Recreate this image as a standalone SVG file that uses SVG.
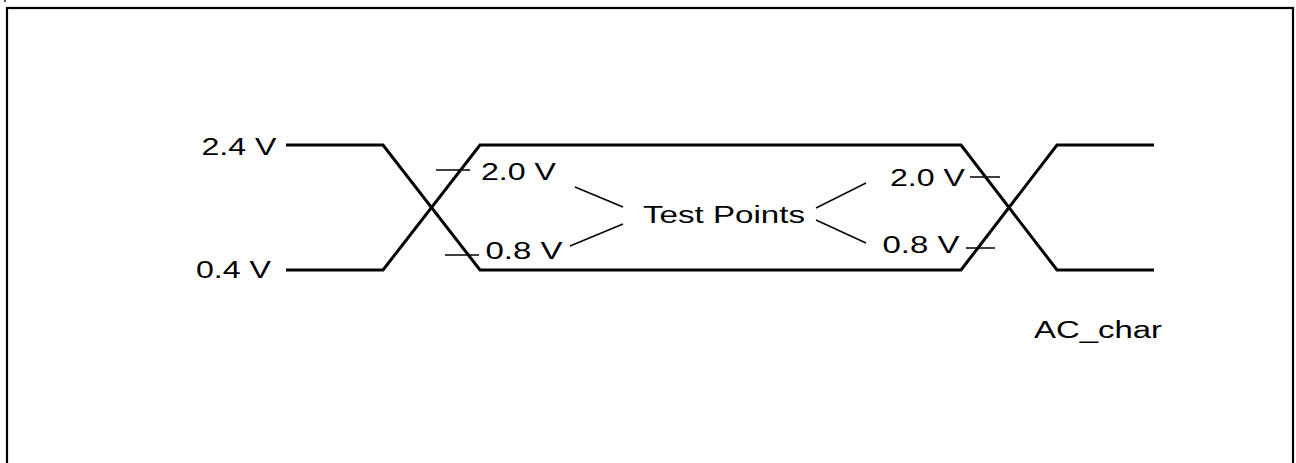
<svg xmlns="http://www.w3.org/2000/svg" width="1296" height="463" viewBox="0 0 1296 463">
<style>
.frame{fill:none;stroke:#000;stroke-width:2.2}
.wave{fill:none;stroke:#000;stroke-width:3;stroke-linejoin:miter}
.thin{fill:none;stroke:#000;stroke-width:1.5}
text{font-family:"Liberation Sans",Arial,sans-serif;font-size:23px;fill:#000}
</style>
<rect width="1296" height="463" fill="#fff"/>
<rect x="4" y="0" width="2" height="2" fill="#555"/>
<rect class="frame" x="7" y="8" width="1286" height="470"/>
<g id="connectors">
<polyline class="wave" points="286,145 383,145 480,270 961,270 1057,145 1154,145"/>
<polyline class="wave" points="286,270 383,270 480,145 961,145 1057,270 1154,270"/>
<line class="thin" x1="436" y1="170" x2="470" y2="170"/>
<line class="thin" x1="445" y1="255" x2="479" y2="255"/>
<line class="thin" x1="970" y1="177" x2="1000" y2="177"/>
<line class="thin" x1="966" y1="248" x2="995" y2="248"/>
<line class="thin" x1="575" y1="187" x2="623" y2="207"/>
<line class="thin" x1="623" y1="224" x2="570" y2="246"/>
<line class="thin" x1="816" y1="208" x2="866" y2="183"/>
<line class="thin" x1="816" y1="220" x2="866" y2="243"/>
</g>
<g id="label-24"><text x="201.5" y="155" textLength="75" lengthAdjust="spacingAndGlyphs">2.4 V</text></g>
<g id="label-04"><text x="196" y="278" textLength="75" lengthAdjust="spacingAndGlyphs">0.4 V</text></g>
<g id="label-20-left"><text x="481" y="180" textLength="75" lengthAdjust="spacingAndGlyphs">2.0 V</text></g>
<g id="label-08-left"><text x="485.5" y="259" textLength="77" lengthAdjust="spacingAndGlyphs">0.8 V</text></g>
<g id="label-20-right"><text x="890" y="186" textLength="75" lengthAdjust="spacingAndGlyphs">2.0 V</text></g>
<g id="label-08-right"><text x="882.5" y="253" textLength="77" lengthAdjust="spacingAndGlyphs">0.8 V</text></g>
<g id="test-points"><text x="643" y="223" textLength="162" lengthAdjust="spacingAndGlyphs">Test Points</text></g>
<g id="ac-char"><text x="1034" y="338" textLength="128" lengthAdjust="spacingAndGlyphs">AC_char</text></g>
</svg>
